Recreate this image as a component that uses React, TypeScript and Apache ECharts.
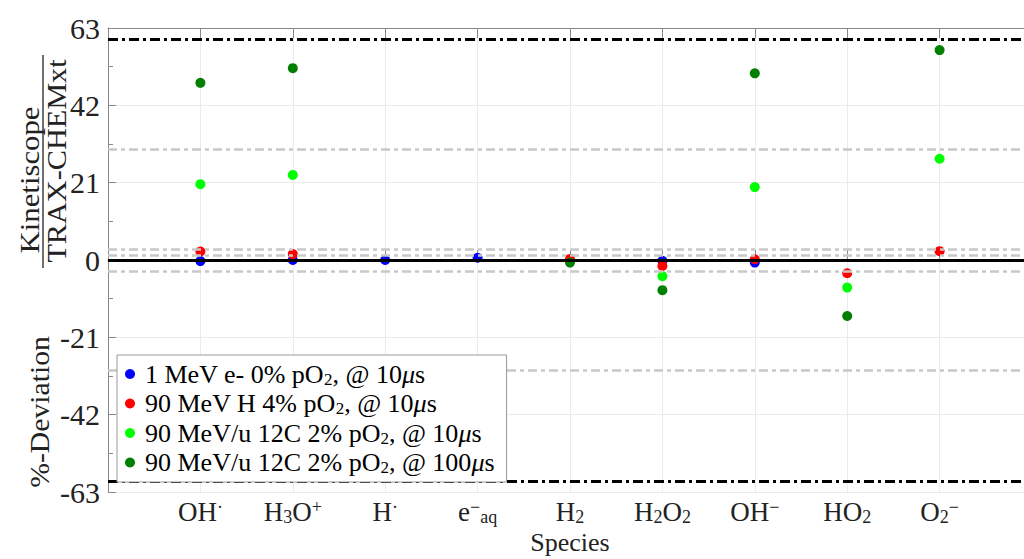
import React, { useEffect, useRef } from "react";
import * as echarts from "echarts";

const SERIF = "Liberation Serif";

// ---- data ----
const species = ["OH·", "H3O+", "H·", "e-aq", "H2", "H2O2", "OH-", "HO2", "O2-"];
const axisCategories = ["left-edge", ...species, "right-edge"];
const speciesLabels = [
  "",
  "{n|OH}{sup|·}",
  "{n|H}{sub|3}{n|O}{sup|+}",
  "{n|H}{sup|·}",
  "{n|e}{sup|−}{sub|aq}",
  "{n|H}{sub|2}",
  "{n|H}{sub|2}{n|O}{sub|2}",
  "{n|OH}{sup|−}",
  "{n|HO}{sub|2}",
  "{n|O}{sub|2}{sup|−}",
  "",
];

const seriesNames = [
  "1 MeV e- 0% pO2, @ 10μs",
  "90 MeV H 4% pO2, @ 10μs",
  "90 MeV/u 12C 2% pO2, @ 10μs",
  "90 MeV/u 12C 2% pO2, @ 100μs",
];
const legendLabels = [
  "{n|1 MeV e- 0% pO}{sub|2}{n|, @ 10}{it|μ}{n|s}",
  "{n|90 MeV H 4% pO}{sub|2}{n|, @ 10}{it|μ}{n|s}",
  "{n|90 MeV/u 12C 2% pO}{sub|2}{n|, @ 10}{it|μ}{n|s}",
  "{n|90 MeV/u 12C 2% pO}{sub|2}{n|, @ 100}{it|μ}{n|s}",
];
const seriesColors = ["#0000ff", "#ff0000", "#00ff00", "#007f00"];

const electron10us = [-0.3, 0.0, 0.0, 0.6, null, -0.2, -0.7, null, null];
const proton10us = [2.3, 1.6, null, null, 0.3, -1.6, 0.2, -3.6, 2.4];
const carbon10us = [20.6, 23.1, null, null, null, -4.4, 19.8, -7.5, 27.5];
const carbon100us = [48.1, 52.1, null, null, -0.7, -8.2, 50.7, -15.2, 57.0];
const seriesValues = [electron10us, proton10us, carbon10us, carbon100us];

const yMin = -63;
const yMax = 63;
const yInterval = 21;
const zeroLine = [0];
const limitLines = [60, -60];
const toleranceLines = [30, 3, 1.2, -3, -30];

export default function App() {
  const ref = useRef<HTMLDivElement>(null);

  useEffect(() => {
    if (!ref.current) return;
    const chart = echarts.init(ref.current, null, { renderer: "svg", width: 1024, height: 559 });

    const richAxis = {
      n: { fontFamily: SERIF, fontSize: 27, color: "#222", lineHeight: 28 },
      sub: { fontFamily: SERIF, fontSize: 18, color: "#222", lineHeight: 14, verticalAlign: "bottom" },
      sup: { fontFamily: SERIF, fontSize: 18, color: "#222", lineHeight: 16, verticalAlign: "top" },
    };
    const richLegend = {
      n: { fontFamily: SERIF, fontSize: 26, color: "#000", lineHeight: 27 },
      sub: { fontFamily: SERIF, fontSize: 17, color: "#000", lineHeight: 12, verticalAlign: "bottom" },
      it: { fontFamily: SERIF, fontSize: 26, color: "#000", fontStyle: "italic", lineHeight: 27 },
    };

    const scatterSeries = seriesNames.map((name, si) => ({
      name,
      type: "scatter",
      xAxisIndex: 0,
      symbol: "circle",
      symbolSize: 10,
      z: 2,
      itemStyle: { color: seriesColors[si], opacity: 1 },
      data: species
        .map((s, i) => (seriesValues[si][i] === null ? null : [s, seriesValues[si][i]]))
        .filter((d) => d !== null),
    }));

    const markData: any[] = [];
    toleranceLines.forEach((v) =>
      markData.push({ yAxis: v, lineStyle: { color: "#c8c8c8", width: 2.5, type: [9, 4, 4, 4] } })
    );
    zeroLine.forEach((v) => markData.push({ yAxis: v, lineStyle: { color: "#000", width: 3, type: "solid" } }));
    limitLines.forEach((v) =>
      markData.push({ yAxis: v, lineStyle: { color: "#000", width: 3, type: [10, 4, 3, 4] } })
    );

    const textEl = (text: string, x: number, y: number, sx: number) => ({
      type: "text",
      x,
      y,
      rotation: Math.PI / 2,
      scaleX: sx,
      style: {
        text,
        font: `27px "${SERIF}"`,
        fontFamily: SERIF,
        fontSize: 27,
        fill: "#222",
        align: "center",
        verticalAlign: "middle",
        textAlign: "center",
        textVerticalAlign: "middle",
      },
    });

    const option: any = {
      animation: false,
      backgroundColor: "#fff",
      textStyle: { fontFamily: SERIF },
      grid: { left: 108, right: -8, top: 28, bottom: 67, containLabel: false, outerBoundsMode: "none" },
      legend: {
        orient: "vertical",
        left: 117,
        top: 355,
        z: 10,
        data: seriesNames,
        icon: "circle",
        itemWidth: 20,
        itemHeight: 10,
        itemGap: 3,
        padding: [6, 12, 6, 8],
        backgroundColor: "#fff",
        borderColor: "#999",
        borderWidth: 1,
        borderRadius: 0,
        selectedMode: false,
        formatter: (name: string) => legendLabels[seriesNames.indexOf(name)],
        textStyle: { fontFamily: SERIF, fontSize: 26, color: "#000", rich: richLegend },
      },
      xAxis: [
        {
          type: "category",
          position: "bottom",
          data: axisCategories,
          boundaryGap: false,
          name: "Species",
          nameLocation: "middle",
          nameGap: 37,
          nameMoveOverlap: false,
          nameTextStyle: { fontFamily: SERIF, fontSize: 26, lineHeight: 26, color: "#222" },
          axisLine: { show: true, lineStyle: { color: "#888", width: 1 } },
          axisTick: { show: true, inside: true, length: 10, lineStyle: { color: "#888" } },
          axisLabel: {
            show: true,
            margin: 6,
            interval: 0,
            formatter: (_v: string, idx: number) => speciesLabels[idx],
            rich: richAxis,
          },
          splitLine: { show: true, lineStyle: { color: "#ebebeb", width: 1 } },
        },
        {
          type: "category",
          position: "top",
          data: axisCategories,
          boundaryGap: false,
          axisLine: { show: true, lineStyle: { color: "#888", width: 1 } },
          axisTick: { show: true, inside: true, length: 10, lineStyle: { color: "#888" } },
          axisLabel: { show: false },
          splitLine: { show: false },
        },
      ],
      yAxis: {
        type: "value",
        min: yMin,
        max: yMax,
        interval: yInterval,
        axisLine: { show: true, lineStyle: { color: "#888", width: 1 } },
        axisTick: { show: true, inside: true, length: 8, lineStyle: { color: "#888" } },
        minorTick: { show: true, splitNumber: 2, length: 5, lineStyle: { color: "#888" } },
        axisLabel: {
          margin: 8,
          fontFamily: SERIF,
          fontSize: 30,
          color: "#222",
          formatter: (v: number) => String(v),
        },
        splitLine: { show: true, lineStyle: { color: "#ebebeb", width: 1 } },
      },
      series: [
        ...scatterSeries,
        {
          name: "reference-lines",
          type: "line",
          data: [],
          z: 3,
          silent: true,
          markLine: {
            silent: true,
            symbol: ["none", "none"],
            label: { show: false },
            emphasis: { disabled: true },
            data: markData,
          },
        },
      ],
      graphic: [
        textEl("Kinetiscope", 30, 180, 1.14),
        {
          type: "line",
          shape: { x1: 43, y1: 55, x2: 43, y2: 268 },
          style: { stroke: "#222", lineWidth: 1.3 },
        },
        textEl("TRAX-CHEMxt", 57, 161, 1.12),
        textEl("%-Deviation", 40, 412, 1.1),
      ],
    };

    chart.setOption(option);
    return () => chart.dispose();
  }, []);

  return <div ref={ref} style={{ position: "fixed", left: 0, top: 0, width: 1024, height: 559 }} />;
}
